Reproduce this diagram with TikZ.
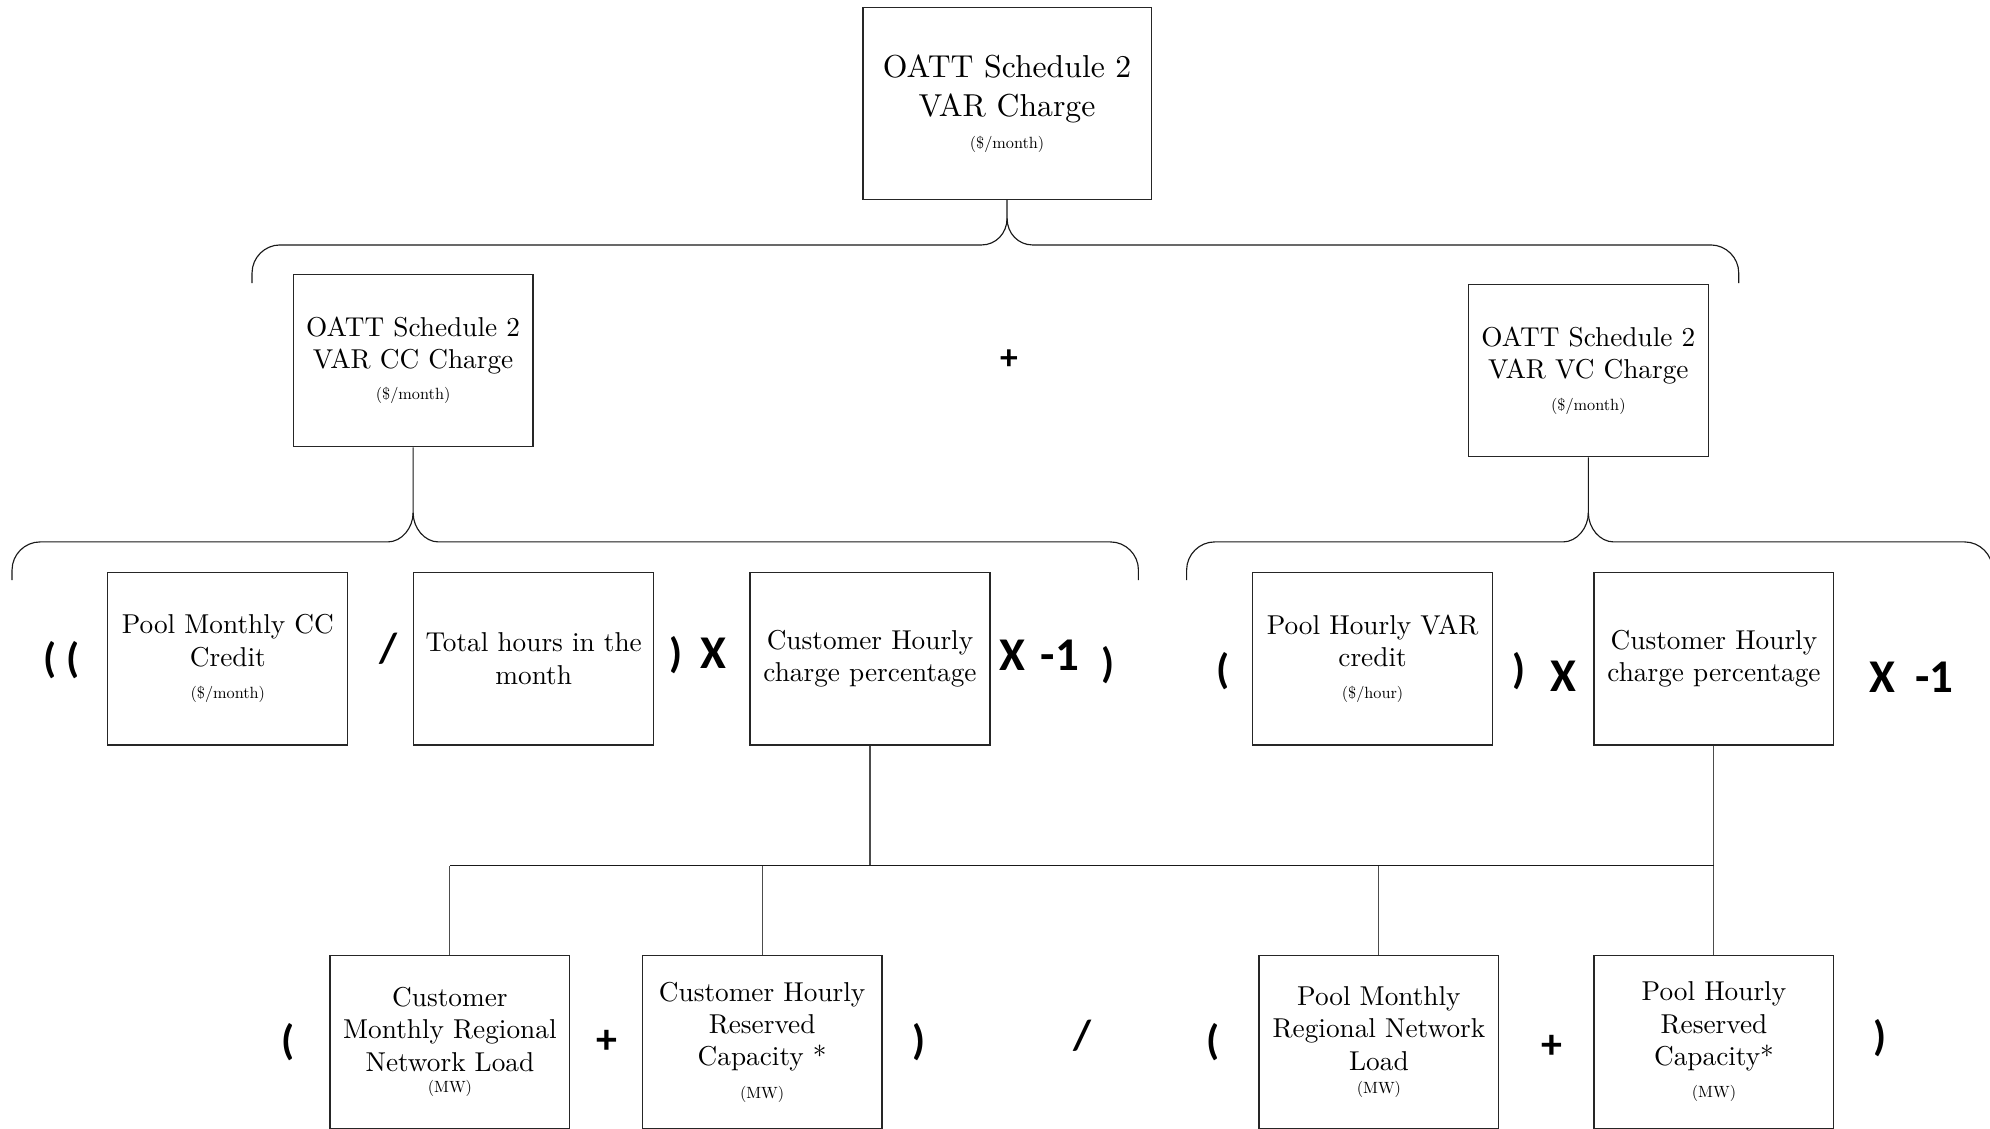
\documentclass[tikz,border=0pt]{standalone}
\usepackage{fontspec}
\setmainfont{lmroman10-regular}[Extension=.otf]
\newfontfamily\opfont{Carlito}
\newcommand\sml[1]{{\fontsize{12.8}{14}\selectfont #1}}
\newcommand\mybrace[6]{%
  \draw[brc] (#1.south) -- (#2,#3)
    .. controls (#2,{#3+12}) and ({#2-9},#4) .. ({#2-20},#4)
    -- ({#5+22},#4)
    .. controls ({#5+10},#4) and (#5,{#4+10}) .. (#5,{#4+22}) -- (#5,{#4+30});
  \draw[brc] (#2,#3)
    .. controls (#2,{#3+12}) and ({#2+9},#4) .. ({#2+20},#4)
    -- ({#6-22},#4)
    .. controls ({#6-10},#4) and (#6,{#4+10}) .. (#6,{#4+22}) -- (#6,{#4+30});
}
\begin{document}
\begin{tikzpicture}[x=1pt,y=-1pt,
  bx/.style={draw=black!85, line width=0.9pt, minimum width=189pt, minimum height=136pt,
    align=center, inner sep=0pt, font=\fontsize{21.5}{25.5}\selectfont},
  op/.style={font=\opfont\bfseries\fontsize{33}{36}\selectfont, inner sep=0pt},
  opx/.style={font=\opfont\bfseries\fontsize{37}{40}\selectfont, inner sep=0pt},
  brc/.style={line width=0.9pt, black!90},
  ln/.style={line width=0.8pt, black!70},
  hln/.style={line width=1pt, black!90}]
\useasboundingbox (0,0) rectangle (1568,889);
\clip (0,0) rectangle (1568,889);

% top level
\node[bx, minimum width=227pt, minimum height=151pt, font=\fontsize{25}{31}\selectfont] (top) at (793.5,81.5)
  {OATT Schedule 2\\VAR Charge\\[-5.7pt]\sml{(\$/month)}};
\node[bx] (cc) at (325.5,284) {OATT Schedule 2\\VAR CC Charge\\[-1pt]\sml{(\$/month)}};
\node[bx] (vc) at (1251.5,292) {OATT Schedule 2\\VAR VC Charge\\[-1pt]\sml{(\$/month)}};
\node[op, font=\opfont\bfseries\fontsize{28}{30}\selectfont] (plus0) at (795,283) {+};

% row 2
\node[bx] (pmcc) at (179.5,519) {Pool Monthly CC\\Credit\\[0pt]\sml{(\$/month)}};
\node[bx] (th) at (420.5,519) {Total hours in the\\month};
\node[bx] (chl) at (685.5,519) {Customer Hourly\\charge percentage};
\node[bx] (phv) at (1081.5,519) {Pool Hourly VAR\\credit\\[0pt]\sml{(\$/hour)}};
\node[bx] (chr) at (1350.5,519) {Customer Hourly\\charge percentage};

% row 3
\node[bx] (cm) at (354.5,821) {Customer\\Monthly Regional\\Network Load\\[-8.4pt]\sml{(MW)}};
\node[bx] (ch) at (600.5,821) {Customer Hourly\\Reserved\\Capacity *\\[0pt]\sml{(MW)}};
\node[bx] (pm) at (1086.5,821) {Pool Monthly\\Regional Network\\Load\\[-7.4pt]\sml{(MW)}};
\node[bx] (ph) at (1350.5,821) {Pool Hourly\\Reserved\\Capacity*\\[0pt]\sml{(MW)}};

% braces
\mybrace{top}{793.5}{172}{193}{198.6}{1370}
\mybrace{cc}{325.5}{404}{427}{9.5}{897}
\mybrace{vc}{1251.5}{404}{427}{935}{1570}

% lower tree
\coordinate (hl) at (354.5,682);
\coordinate (hr) at (1350.5,682);
\draw[ln] (chl.south) -- (chl.south |- hl);
\draw[ln] (chr.south) -- (ph.north);
\draw[hln] (hl) -- (hr);
\draw[ln] (cm.north) -- (hl);
\draw[ln] (ch.north) -- (ch.north |- hl);
\draw[ln] (pm.north) -- (pm.north |- hl);

% operators row 2
\node[op] (o1) at (48.5,520) {( (};
\node[op] (o2) at (306,511) {/};
\node[op] (o3) at (533,516) {)};
\node[opx] (o4) at (562,515) {X};
\node[opx] (o5) at (798,516) {X};
\node[opx] (o6) at (835,516) {-1};
\node[op] (o7) at (873,524) {)};
\node[op] (o8) at (964,529) {(};
\node[op] (o9) at (1197,529) {)};
\node[opx] (o10) at (1232,533) {X};
\node[opx] (o11) at (1483,534) {X};
\node[opx] (o12) at (1524,534) {-1};

% operators row 3
\node[op] (p1) at (227,821) {(};
\node[op] (p2) at (478,821) {+};
\node[op] (p3) at (724.5,821) {)};
\node[op] (p4) at (853,816) {/};
\node[op] (p5) at (956,821) {(};
\node[op] (p6) at (1223,825) {+};
\node[op] (p7) at (1481,818) {)};
\end{tikzpicture}
\end{document}
